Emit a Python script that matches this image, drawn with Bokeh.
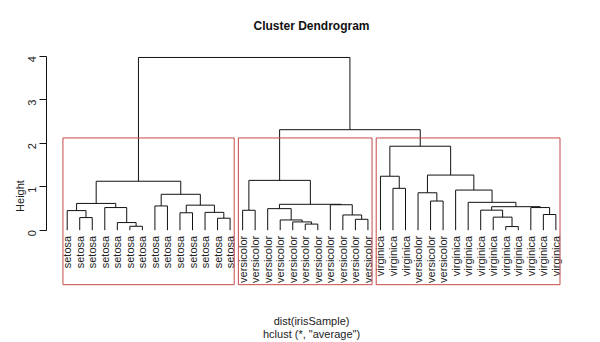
import math
from bokeh.plotting import figure
from bokeh.models import Range1d, FixedTicker
from bokeh.core.properties import value
from bokeh.embed import file_html
from bokeh.resources import INLINE

# ---------------- data ----------------
labels = (["setosa"] * 14 + ["versicolor"] * 11 + ["virginica"] * 3
          + ["versicolor"] * 3 + ["virginica"] * 9)

# R-style merge matrix: negative = leaf (1-based, in plotting order), positive = earlier merge row
merge_left = [-6, -5, -2, -1, -4, 4, -13, -10, -12, 8, -8, 11, 6,
              -20, -19, -18, -17, -24, -23, -22, 17, -15, 22,
              -27, -26, -30, -29, -36, -35, -34, -39, -38, 30, -33, -32, 27, 25,
              23, 13]
merge_right = [-7, 1, -3, 3, 2, 5, -14, -11, 7, 9, -9, 10, 12,
               -21, 14, 15, 16, -25, 18, 19, 20, -16, 21,
               -28, 24, -31, 26, -37, 28, 29, -40, 31, 32, 33, 34, 35, 36,
               37, 38]
merge_height = [0.09, 0.175, 0.29, 0.45, 0.52, 0.615, 0.275, 0.40, 0.41, 0.575, 0.557, 0.825, 1.125,
                0.14, 0.19, 0.235, 0.495, 0.25, 0.35, 0.585, 0.595, 0.458, 1.145,
                0.962, 1.24, 0.67, 0.86, 0.083, 0.30, 0.46, 0.36, 0.52, 0.54, 0.64, 0.922, 1.267, 1.93,
                2.31, 3.97]

y_ticks = [0, 1, 2, 3, 4]
n_clusters = 3
title_text = "Cluster Dendrogram"
xlab_text = "dist(irisSample)"
sub_text = 'hclust (*, "average")'
ylab_text = "Height"

# ---------------- tree geometry ----------------
n = len(labels)
leaf_x = list(range(1, n + 1))
node_x, node_h, node_leaves = [], [], []


def child(c):
    if c < 0:
        return leaf_x[-c - 1], 0.0, [-c]
    k = c - 1
    return node_x[k], node_h[k], node_leaves[k]


x0, y0, x1, y1 = [], [], [], []
for l, r, h in zip(merge_left, merge_right, merge_height):
    xl, hl, ll = child(l)
    xr, hr, lr = child(r)
    x0 += [xl, xl, xr]
    y0 += [hl, h, h]
    x1 += [xl, xr, xr]
    y1 += [h, h, hr]
    node_x.append((xl + xr) / 2)
    node_h.append(h)
    node_leaves.append(ll + lr)

# rect.hclust(k = 3)
clusters = [len(merge_height)]
while len(clusters) < n_clusters:
    best = max((c for c in clusters if c > 0), key=lambda c: merge_height[c - 1])
    i = clusters.index(best)
    clusters[i:i + 1] = [merge_left[best - 1], merge_right[best - 1]]
hs = sorted(merge_height, reverse=True)
rect_top = (hs[n_clusters - 2] + hs[n_clusters - 1]) / 2
rect_bottom = -1.253
r_left, r_right = [], []
for c in clusters:
    lv = child(c)[2]
    r_left.append(min(lv) - 0.34)
    r_right.append(max(lv) + 0.33)

# ---------------- figure ----------------
FONT = "Liberation Sans"
p = figure(width=600, height=342, output_backend="svg", toolbar_location=None,
           x_range=Range1d(-0.652, 41.646), y_range=Range1d(-2.582, 4.1535),
           x_axis_location=None, y_axis_location="left",
           min_border_left=46, min_border_right=24, min_border_top=48, min_border_bottom=0)
p.grid.visible = False
p.outline_line_color = None
p.background_fill_color = "white"
p.border_fill_color = "white"

p.segment(x0=x0, y0=y0, x1=x1, y1=y1, line_color="#111111", line_width=1)

p.text(x=leaf_x, y=[-0.13] * n, text=labels, angle=math.pi / 2,
       text_align="right", text_baseline="middle",
       text_font=value(FONT), text_font_size="11px", text_color="#222222")

p.quad(left=r_left, right=r_right, top=[rect_top] * len(r_left), bottom=[rect_bottom] * len(r_left),
       fill_color=None, line_color="#C84848", line_width=1)

mid_x = (leaf_x[0] + leaf_x[-1]) / 2
p.text(x=[mid_x, mid_x], y=[-2.078, -2.376], text=[xlab_text, sub_text],
       text_align="center", text_baseline="middle",
       text_font=value(FONT), text_font_size="11px", text_color="#222222")

ax = p.yaxis[0]
ax.ticker = FixedTicker(ticks=y_ticks)
ax.bounds = (min(y_ticks), max(y_ticks))
ax.major_tick_out = 7
ax.major_tick_in = 0
ax.minor_tick_out = 0
ax.minor_tick_in = 0
ax.axis_line_color = "#111111"
ax.major_tick_line_color = "#111111"
ax.major_label_orientation = math.pi / 2
ax.major_label_standoff = 7
ax.major_label_text_font = FONT
ax.major_label_text_font_size = "11px"
ax.major_label_text_color = "#222222"
ax.axis_label = ylab_text
ax.axis_label_standoff = -4
ax.axis_label_text_font = FONT
ax.axis_label_text_font_size = "11px"
ax.axis_label_text_font_style = "normal"
ax.axis_label_text_color = "#222222"

p.title.text = title_text
p.title.align = "center"
p.title.text_font = FONT
p.title.text_font_size = "12px"
p.title.text_font_style = "bold"
p.title.text_color = "#111111"
p.title.standoff = 33

open("out.html", "w").write(file_html(p, INLINE))
